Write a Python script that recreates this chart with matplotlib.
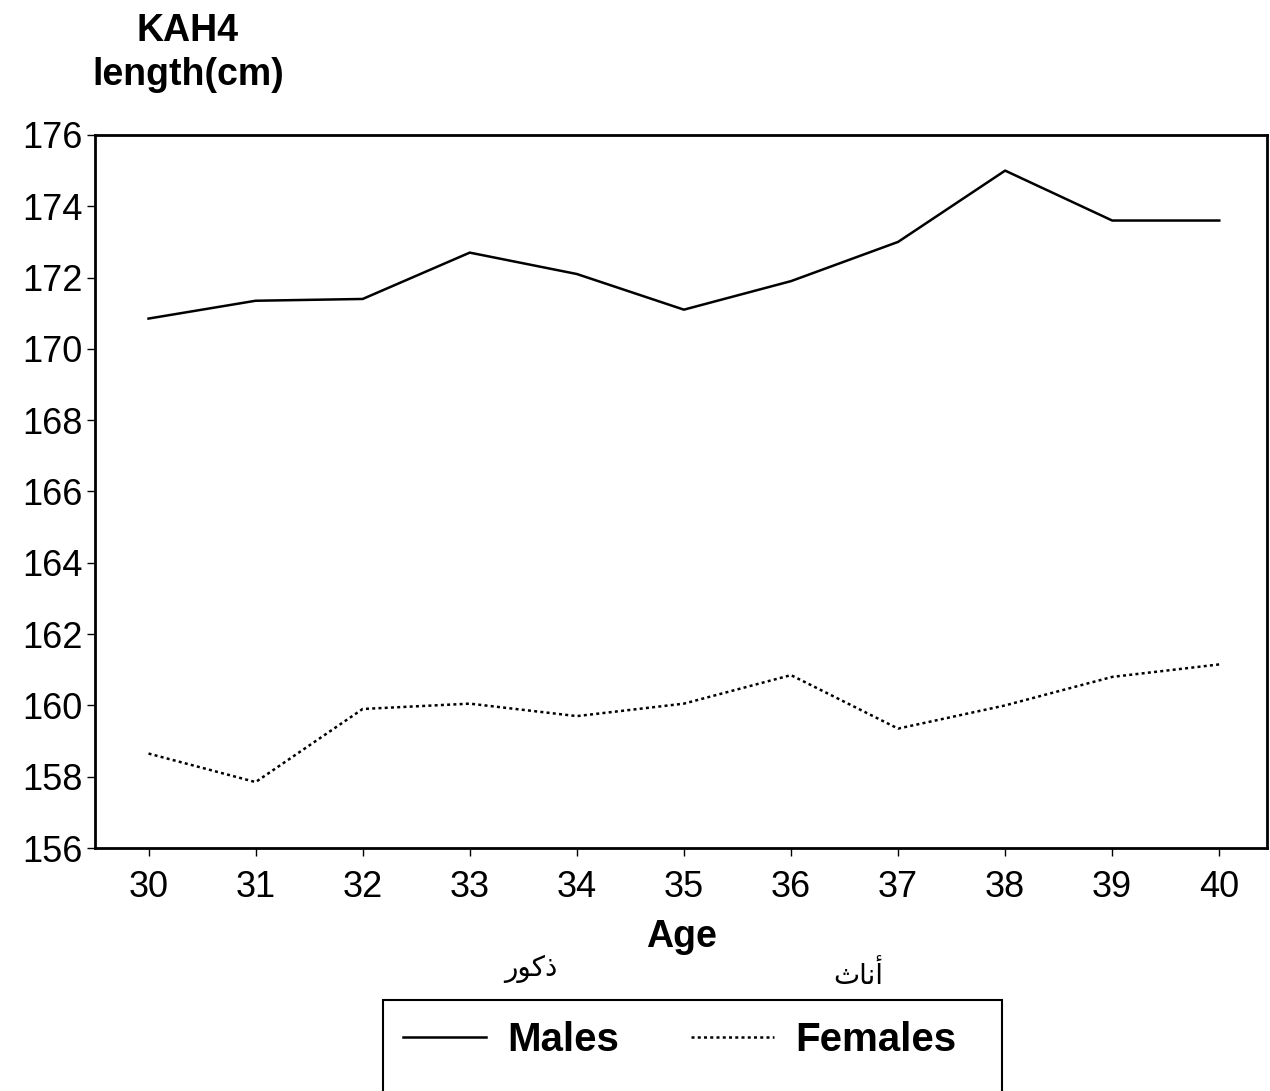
import matplotlib.pyplot as plt
from matplotlib.patches import Rectangle
import numpy as np

plt.rcParams['font.family'] = ['Liberation Sans', 'DejaVu Sans']

ages = [30, 31, 32, 33, 34, 35, 36, 37, 38, 39, 40]
males = [170.85, 171.35, 171.4, 172.7, 172.1, 171.1, 171.9, 173.0, 175.0, 173.6, 173.6]
females = [158.65, 157.85, 159.9, 160.05, 159.7, 160.05, 160.85, 159.35, 160.0, 160.8, 161.15]
yticks = [156, 158, 160, 162, 164, 166, 168, 170, 172, 174, 176]

# arabic labels, already shaped (presentation forms, visual order)
label_males_ar = '\uFEAD\uFEEE\uFEDB\uFEAB'      # ذكور
label_females_ar = '\uFE99\uFE8E\uFEE7\uFE83'    # أناث

fig = plt.figure(figsize=(12.7, 10.91), dpi=100)
ax = fig.add_axes([0.0748, 0.2227, 0.9232, 0.6536])

ax.plot(ages, males, color='black', lw=1.8, label='Males')
ax.plot(ages, females, color='black', lw=1.8, linestyle=(0, (1.2, 1.3)), label='Females')

ax.set_xlim(29.5, 40.45)
ax.set_ylim(156, 176)
ax.set_xticks(ages)
ax.set_yticks(yticks)
ax.tick_params(labelsize=26, width=1, length=6, direction='out')
ax.tick_params(axis='x', pad=10)
ax.tick_params(axis='y', pad=3)
for s in ax.spines.values():
    s.set_linewidth(2)

ax.set_xlabel('Age', fontsize=27, fontweight='bold', labelpad=10)

fig.text(0.148, 0.988, 'KAH4', fontsize=27, fontweight='bold', ha='center', va='top')
fig.text(0.148, 0.948, 'length(cm)', fontsize=27, fontweight='bold', ha='center', va='top')

fig.text(0.418, 0.112, label_males_ar, fontsize=20, ha='center', va='center',
         family='DejaVu Sans')
fig.text(0.676, 0.106, label_females_ar, fontsize=20, ha='center', va='center',
         family='DejaVu Sans')

# legend box runs off the bottom of the page in the original
fig.patches.append(Rectangle((383 / 1270, -0.02), (1002 - 383) / 1270, 0.02 + 1 - 1000 / 1091,
                             transform=fig.transFigure, fill=False, edgecolor='black', lw=1.5))
leg = fig.legend(loc='center left', bbox_to_anchor=(383 / 1270, 1 - 1040 / 1091), ncol=2,
                 frameon=False, handlelength=2.06, handletextpad=0.52, columnspacing=1.8,
                 borderpad=0.5, borderaxespad=0,
                 prop={'weight': 'bold', 'size': 29})

fig.savefig('out.png', dpi=100)
